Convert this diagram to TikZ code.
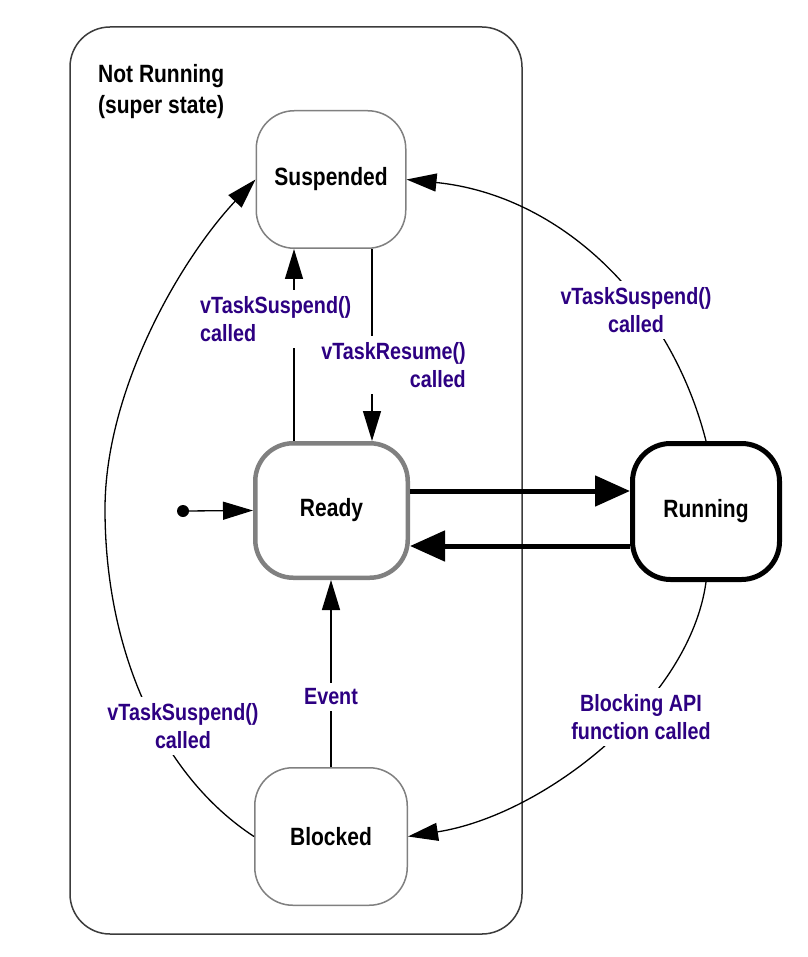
\documentclass[tikz,border=0pt]{standalone}
\usepackage{fontspec}
\setmainfont{Liberation Sans}[FakeStretch=0.84]
\usetikzlibrary{arrows.meta}
\definecolor{labc}{RGB}{45,0,130}
\definecolor{boxgray}{RGB}{128,128,128}
\definecolor{framec}{RGB}{60,60,60}
\begin{document}
\begin{tikzpicture}[x=1pt,y=-1pt,
  state/.style={rounded corners=38pt, inner sep=0pt, text=black,
    font=\fontsize{25}{30}\selectfont\bfseries},
  thinstate/.style={state, draw=boxgray, line width=1.5pt},
  lab/.style={font=\fontsize{23.5}{28}\selectfont\bfseries, text=labc,
    fill=white, inner xsep=4pt, inner ysep=6pt},
  conn/.style={line width=1.3pt, -{Triangle[length=30pt,width=18pt]}},
  bigarrow/.style={line width=5pt, -{Triangle[length=35pt,width=30pt]}},
]
\useasboundingbox (0,0) rectangle (807,957);
\fill[white] (0,0) rectangle (807,957);

% super state frame
\draw[framec, line width=1.5pt, rounded corners=40pt] (70,27) rectangle (522,934);
\node[anchor=north west, align=left, inner sep=0pt,
  font=\fontsize{25}{31}\selectfont\bfseries] (super) at (98,64)
  {Not Running\\(super state)};

% states
\node[thinstate, minimum width=149.5pt, minimum height=137.5pt] (suspended) at (331,179.5) {Suspended};
\node[state, draw=boxgray, line width=4.5pt, minimum width=152.5pt, minimum height=134.5pt] (ready) at (331.5,510.5) {Ready};
\node[state, draw=black, line width=5pt, minimum width=147pt, minimum height=136pt] (running) at (706,511.5) {Running};
\node[thinstate, minimum width=152.5pt, minimum height=137.5pt] (blocked) at (331,836.5) {Blocked};

% initial state
\node[circle, fill=black, inner sep=0pt, minimum size=12pt] (init) at (183,511) {};

% helper coordinates
\coordinate (xa) at (294,0);
\coordinate (xb) at (372,0);
\coordinate (ya) at (0,491);
\coordinate (yb) at (0,546);

% connectors
\draw[conn] (init) -- (ready.west);
\draw[conn] (ready.north -| xa) -- (suspended.south -| xa);
\draw[conn] (suspended.south -| xb) -- (ready.north -| xb);
\draw[conn] (blocked.north) -- (blocked.north |- ready.south);
\draw[bigarrow] (ready.east |- ya) -- (running.west |- ya);
\draw[bigarrow] (running.west |- yb) -- (ready.east |- yb);
\draw[conn] (running.north) .. controls (670,300) and (560,195) .. (suspended.east);
\draw[conn] (running.south) .. controls (690,700) and (545,815) .. (blocked.east);
\draw[conn] (blocked.west) .. controls (160,775) and (105,650) .. (105,509)
  .. controls (105,390) and (180,260) .. (suspended.west);

% labels
\node[lab, align=left, anchor=west] (lsus1) at (196,319) {vTaskSuspend()\\called};
\node[lab, align=right, anchor=east] (lres) at (470,365) {vTaskResume()\\called};
\node[lab, align=center] (lsus2) at (636,310) {vTaskSuspend()\\called};
\node[lab, align=center] (lblock) at (641,717) {Blocking API\\function called};
\node[lab, align=center] (lsus3) at (183,726) {vTaskSuspend()\\called};
\node[lab] (levent) at (331,697) {Event};
\end{tikzpicture}
\end{document}
